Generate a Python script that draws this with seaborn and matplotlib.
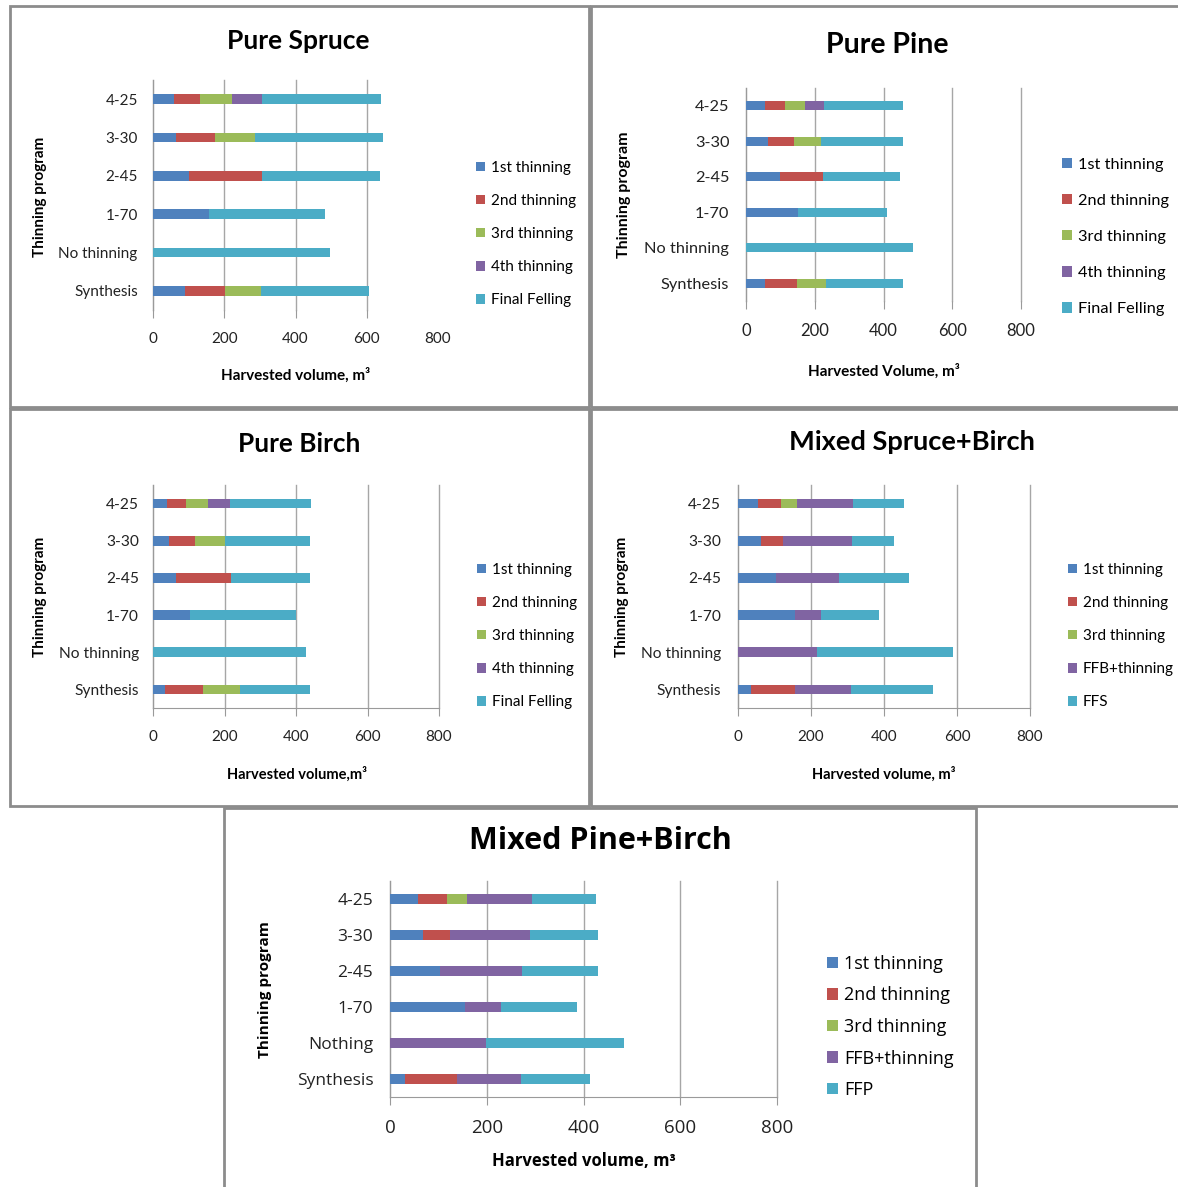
#!/usr/bin/env python3
"""Stacked harvested-volume bars for five stand types."""

import matplotlib
matplotlib.use("Agg")
import matplotlib.pyplot as plt
from matplotlib.patches import Patch, Rectangle
import pandas as pd
import seaborn as sns

W, H = 1178, 1187

programs = ["4-25", "3-30", "2-45", "1-70", "No thinning", "Synthesis"]
programs_pb = ["4-25", "3-30", "2-45", "1-70", "Nothing", "Synthesis"]

# Pure Spruce
spruce_1st = [59, 64, 101, 156, 0, 89]
spruce_2nd = [74, 109, 206, 0, 0, 114]
spruce_3rd = [88, 114, 0, 0, 0, 99]
spruce_4th = [85, 0, 0, 0, 0, 0]
spruce_final = [335, 359, 330, 327, 496, 305]

# Pure Pine
pine_1st = [56, 63, 98, 151, 0, 56]
pine_2nd = [58, 77, 127, 0, 0, 93]
pine_3rd = [59, 77, 0, 0, 0, 84]
pine_4th = [53, 0, 0, 0, 0, 0]
pine_final = [232, 241, 222, 258, 486, 225]

# Pure Birch
birch_1st = [39, 45, 64, 104, 0, 34]
birch_2nd = [54, 73, 153, 0, 0, 105]
birch_3rd = [60, 83, 0, 0, 0, 105]
birch_4th = [61, 0, 0, 0, 0, 0]
birch_final = [227, 238, 222, 295, 427, 195]

# Mixed Spruce+Birch
sb_1st = [55, 63, 103, 157, 0, 35]
sb_2nd = [63, 61, 0, 0, 0, 121]
sb_3rd = [44, 0, 0, 0, 0, 0]
sb_ffb = [154, 188, 174, 71, 217, 154]
sb_ffs = [139, 116, 192, 158, 372, 223]

# Mixed Pine+Birch
pb_1st = [57, 69, 103, 155, 0, 32]
pb_2nd = [60, 56, 0, 0, 0, 106]
pb_3rd = [42, 0, 0, 0, 0, 0]
pb_ffb = [134, 165, 169, 74, 199, 133]
pb_ffp = [133, 141, 158, 158, 284, 143]

pure_labels = ["1st thinning", "2nd thinning", "3rd thinning", "4th thinning", "Final Felling"]
colors = ["#4F81BD", "#C0504D", "#9BBB59", "#8064A2", "#4BACC6"]
xticks = [0, 200, 400, 600, 800]

plt.rcParams["font.family"] = ["Lato", "DejaVu Sans"]

fig = plt.figure(figsize=(W / 100, H / 100), dpi=100)
fig.patch.set_facecolor("white")


def fx(x):
    return x / W


def fy(y):
    return 1 - y / H


def box(x0, y0, x1, y1):
    fig.patches.append(Rectangle((fx(x0), fy(y1)), fx(x1) - fx(x0), fy(y0) - fy(y1),
                                 transform=fig.transFigure, fill=False,
                                 edgecolor="#8c8c8c", linewidth=2, zorder=0))


def panel(rect, cats, series, labels, title, title_xy, title_size, ylab_xy, xlab, xlab_xy,
          leg_xy, tick_fs=11, ytick_fs=11.5, leg_fs=11, xlab_fs=10.5, ylab_fs=11,
          ypad=10, leg_space=1.2, family="Lato", bottom_line=True, last_grid=True):
    x0, y0, x1, y1 = rect
    ax = fig.add_axes([fx(x0), fy(y1), fx(x1) - fx(x0), fy(y0) - fy(y1)])
    fam = [family, "DejaVu Sans"]

    # stacked bars: draw cumulative totals from the back to the front
    df = pd.DataFrame({"program": cats})
    cum = [0] * len(cats)
    cums = []
    for s in series:
        cum = [a + b for a, b in zip(cum, s)]
        cums.append(list(cum))
    for i in reversed(range(len(series))):
        df["value"] = cums[i]
        sns.barplot(data=df, y="program", x="value", orient="h", color=colors[i],
                    saturation=1, width=0.26, linewidth=0, ax=ax, zorder=3)

    ax.set_xlim(0, 800)
    ax.set_xticks(xticks)
    ax.set_xticklabels([str(t) for t in xticks], fontsize=tick_fs, family=fam, color="#222222")
    ax.set_yticks(range(len(cats)))
    ax.set_yticklabels(cats, fontsize=ytick_fs, family=fam, color="#222222")
    ax.tick_params(axis="y", length=0, pad=ypad)
    ax.tick_params(axis="x", length=6, color="#9a9a9a", pad=10)
    ax.grid(axis="x", color="#a6a6a6", linewidth=1, zorder=0)
    for gl in ax.xaxis.get_gridlines():
        gl.set_clip_on(False)
    ax.set_axisbelow(True)
    if not last_grid:
        ax.xaxis.get_gridlines()[-1].set_visible(False)
        ax.xaxis.get_major_ticks()[-1].tick1line.set_visible(False)
    for side in ["top", "right"]:
        ax.spines[side].set_visible(False)
    ax.spines["left"].set_color("#9a9a9a")
    ax.spines["bottom"].set_color("#9a9a9a")
    ax.spines["bottom"].set_visible(bottom_line)
    ax.set_xlabel("")
    ax.set_ylabel("")

    fig.text(fx(title_xy[0]), fy(title_xy[1]), title, ha="center", va="center",
             fontsize=title_size, fontweight="bold", family=fam)
    fig.text(fx(ylab_xy[0]), fy(ylab_xy[1]), "Thinning program", ha="center", va="center",
             rotation=90, fontsize=ylab_fs, fontweight="bold", family=fam)
    fig.text(fx(xlab_xy[0]), fy(xlab_xy[1]), xlab, ha="center", va="center",
             fontsize=xlab_fs, fontweight="bold", family=fam)

    handles = [Patch(facecolor=c, edgecolor="none") for c in colors]
    fig.legend(handles, labels, loc="center left", bbox_to_anchor=(fx(leg_xy[0]), fy(leg_xy[1])),
               frameon=False, prop={"family": fam, "size": leg_fs},
               handlelength=0.6, handleheight=0.6, handletextpad=0.35,
               labelspacing=leg_space, borderpad=0, borderaxespad=0)
    return ax


# panel frames
box(10, 6, 589, 407)
box(591, 6, 1190, 407)
box(10, 409, 589, 806)
box(591, 409, 1190, 806)
box(224, 808, 976, 1200)

panel((153, 80, 438, 310), programs,
      [spruce_1st, spruce_2nd, spruce_3rd, spruce_4th, spruce_final], pure_labels,
      "Pure Spruce", (298, 41), 19, (40, 197), "Harvested volume, m\u00b3", (296, 375),
      (476, 234), tick_fs=11, ytick_fs=11, leg_fs=11, xlab_fs=11, ypad=11,
      leg_space=1.25, bottom_line=False, last_grid=False)

panel((746, 88, 1021, 301), programs,
      [pine_1st, pine_2nd, pine_3rd, pine_4th, pine_final], pure_labels,
      "Pure Pine", (887, 45), 20.5, (624, 195), "Harvested Volume, m\u00b3", (884, 371),
      (1062, 237), tick_fs=12, ytick_fs=11.8, leg_fs=11.8, xlab_fs=11, ylab_fs=11.5,
      ypad=12, leg_space=1.35, bottom_line=False)

panel((153, 485, 439, 708), programs,
      [birch_1st, birch_2nd, birch_3rd, birch_4th, birch_final], pure_labels,
      "Pure Birch", (299, 444), 18.8, (40, 597), "Harvested volume,m\u00b3", (297, 774),
      (477, 636), tick_fs=11, ytick_fs=11.2, leg_fs=11, xlab_fs=10.5, ypad=10, leg_space=1.25)

panel((738, 485, 1030, 708), programs,
      [sb_1st, sb_2nd, sb_3rd, sb_ffb, sb_ffs],
      ["1st thinning", "2nd thinning", "3rd thinning", "FFB+thinning", "FFS"],
      "Mixed Spruce+Birch", (912, 442), 19.6, (622, 597), "Harvested volume, m\u00b3", (884, 774),
      (1068, 636), tick_fs=11, ytick_fs=11.2, leg_fs=11, xlab_fs=10.5, ypad=12, leg_space=1.25)

panel((390, 881, 777, 1097), programs_pb,
      [pb_1st, pb_2nd, pb_3rd, pb_ffb, pb_ffp],
      ["1st thinning", "2nd thinning", "3rd thinning", "FFB+thinning", "FFP"],
      "Mixed Pine+Birch", (600, 841), 22, (265, 990), "Harvested volume, m\u00b3", (584, 1161),
      (827, 1027), tick_fs=13.5, ytick_fs=12.5, leg_fs=13, xlab_fs=12, ylab_fs=11,
      ypad=12, leg_space=0.75, family="Open Sans")

fig.savefig("out.png", dpi=100, facecolor="white")
